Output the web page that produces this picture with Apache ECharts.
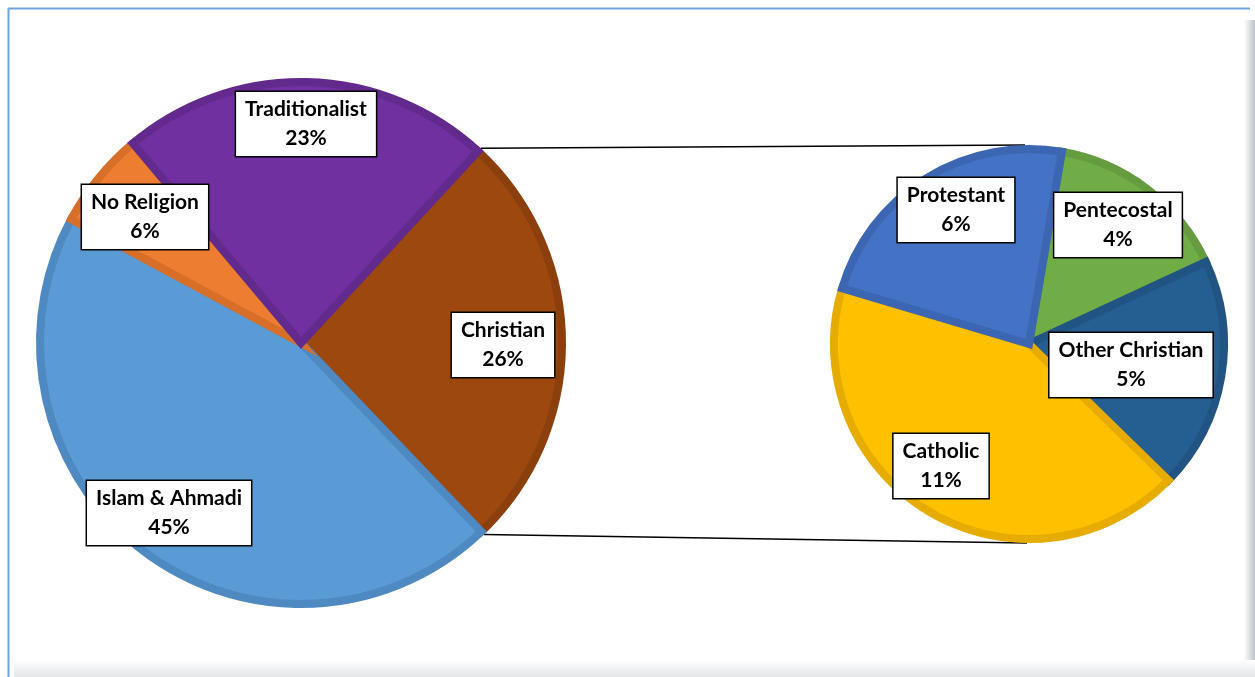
<!DOCTYPE html>
<html><head><meta charset="utf-8">
<script src="https://cdn.jsdelivr.net/npm/echarts@6/dist/echarts.min.js"></script>
<style>html,body{margin:0;padding:0;background:#fff}#c{width:1255px;height:677px}</style>
</head><body><div id="c"></div>
<script>
// Main pie
const mainCategories = ['Christian', 'Islam & Ahmadi', 'No Religion', 'Traditionalist'];
const mainValues = [26, 45, 6, 23];
// Breakdown of Christian
const subCategories = ['Pentecostal', 'Other Christian', 'Catholic', 'Protestant'];
const subValues = [4, 5, 11, 6];

const mainColors = {'Christian':['#9c480e','#8a3f0c'],'Islam & Ahmadi':['#5b9bd5','#4f89c2'],'No Religion':['#ed7d31','#d86f29'],'Traditionalist':['#7030a0','#632a8e']};
const subColors = {'Pentecostal':['#70ad47','#649c3f'],'Other Christian':['#255e91','#215482'],'Catholic':['#ffc000','#e6ac00'],'Protestant':['#4472c4','#3c66b1']};
const labelPos = {'Traditionalist':[306,124],'No Religion':[145,217],'Christian':[503,345],'Islam & Ahmadi':[169,513],
  'Protestant':[956,210],'Pentecostal':[1118,225],'Other Christian':[1131,365],'Catholic':[941,466]};

const L = {cx:301, cy:343, r:265};
const R = {cx:1029, cy:344, r:199};
const bw = 8;
const mainStart = 47.3;

const chart = echarts.init(document.getElementById('c'), null, {renderer:'canvas'});
const labelStyle = {
  show:true, position:'inside', formatter:'{b}\n{c}%', color:'#000', fontFamily:'Lato, "Open Sans", sans-serif',
  fontWeight:'bold', fontSize:21, lineHeight:29, backgroundColor:'#fff', borderColor:'#000', borderWidth:1.5,
  padding:[4,9,2,9], align:'center', verticalAlign:'middle'
};
function mk(cats, vals, colors){
  return cats.map((n,i)=>({name:n, value:vals[i], itemStyle:{color:colors[n][0], borderColor:colors[n][1], borderWidth:bw, borderJoin:'miter'}}));
}
// connector lines computed from pie geometry
const christianSpan = mainValues[0]/mainValues.reduce((a,b)=>a+b,0)*360;
const a1 = mainStart*Math.PI/180, a2 = (mainStart-christianSpan)*Math.PI/180;
const p1 = [L.cx + L.r*Math.cos(a1), L.cy - L.r*Math.sin(a1)];
const p2 = [L.cx + L.r*Math.cos(a2), L.cy - L.r*Math.sin(a2)];
const q1 = [R.cx - 4, R.cy - R.r];
const q2 = [R.cx - 2, R.cy + R.r];

chart.setOption({
  backgroundColor:'#fff',
  animation:false,
  graphic:[
    {type:'rect', shape:{x:1244,y:20,width:11,height:657}, style:{fill:new echarts.graphic.LinearGradient(0,0,1,0,[{offset:0,color:'rgba(255,255,255,1)'},{offset:1,color:'rgba(190,195,200,1)'}])}, z:0},
    {type:'rect', shape:{x:14,y:660,width:1241,height:17}, style:{fill:new echarts.graphic.LinearGradient(0,0,0,1,[{offset:0,color:'rgba(255,255,255,1)'},{offset:1,color:'rgba(228,230,232,1)'}])}, z:0},
    {type:'line', shape:{x1:8,y1:8.5,x2:1250,y2:8.5}, style:{stroke:'#6fa6dc', lineWidth:2}, z:1},
    {type:'line', shape:{x1:8.5,y1:8,x2:8.5,y2:677}, style:{stroke:'#6fa6dc', lineWidth:2}, z:1},
    {type:'line', shape:{x1:p1[0],y1:p1[1],x2:q1[0],y2:q1[1]}, style:{stroke:'#000', lineWidth:1.5}, z:1},
    {type:'line', shape:{x1:p2[0],y1:p2[1],x2:q2[0],y2:q2[1]}, style:{stroke:'#000', lineWidth:1.5}, z:1}
  ],
  series:[
    {type:'pie', center:[L.cx,L.cy], radius:[0, L.r - bw/2], startAngle:mainStart, clockwise:true, data:mk(mainCategories, mainValues, mainColors),
     label:labelStyle, labelLine:{show:false}, emphasis:{disabled:true}, avoidLabelOverlap:false,
     labelLayout:p=>({x:labelPos[p.text.split('\n')[0]][0], y:labelPos[p.text.split('\n')[0]][1]})},
    {type:'pie', center:[R.cx,R.cy], radius:[0, R.r - bw/2], startAngle:80.3, clockwise:true, data:mk(subCategories, subValues, subColors),
     label:labelStyle, labelLine:{show:false}, emphasis:{disabled:true}, avoidLabelOverlap:false,
     labelLayout:p=>({x:labelPos[p.text.split('\n')[0]][0], y:labelPos[p.text.split('\n')[0]][1]})}
  ]
});
</script></body></html>
